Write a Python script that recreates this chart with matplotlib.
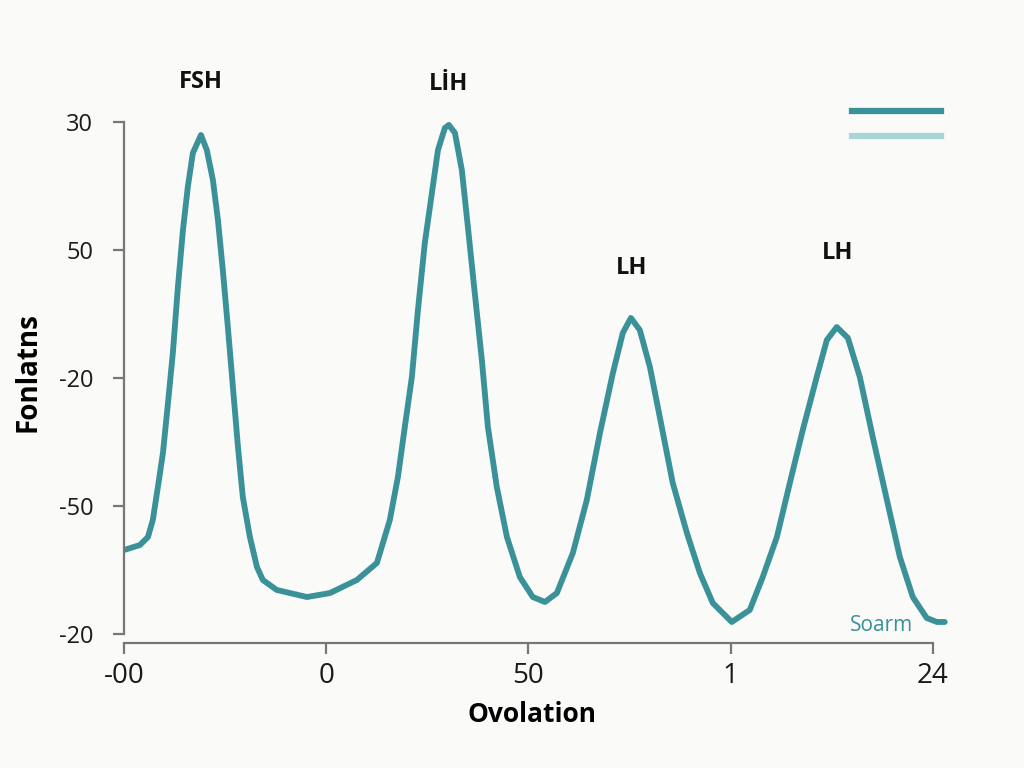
import matplotlib
matplotlib.use("Agg")
import matplotlib.pyplot as plt
from matplotlib.lines import Line2D

plt.rcParams['font.family'] = ['Open Sans', 'DejaVu Sans']

# curve (positional axis units, 0..4 on both axes)
cycle_x = [0.0, 0.079, 0.119, 0.143, 0.168, 0.193, 0.218, 0.242, 0.267, 0.292,
           0.316, 0.341, 0.381, 0.410, 0.440, 0.465, 0.489, 0.514, 0.539, 0.564,
           0.588, 0.623, 0.658, 0.687, 0.756, 0.821, 0.905, 1.019, 1.152, 1.251,
           1.266, 1.315, 1.355, 1.389, 1.424, 1.454, 1.488, 1.523, 1.553, 1.587,
           1.607, 1.637, 1.671, 1.701, 1.735, 1.770, 1.800, 1.844, 1.894, 1.958,
           2.022, 2.082, 2.141, 2.220, 2.289, 2.354, 2.418, 2.467, 2.507, 2.551,
           2.601, 2.650, 2.714, 2.784, 2.848, 2.912, 3.006, 3.095, 3.159, 3.229,
           3.293, 3.357, 3.426, 3.476, 3.525, 3.580, 3.639, 3.703, 3.773, 3.837,
           3.901, 3.970, 4.020, 4.059]
cycle_y = [0.656, 0.695, 0.758, 0.891, 1.148, 1.414, 1.805, 2.195, 2.711, 3.156,
           3.492, 3.758, 3.898, 3.781, 3.547, 3.234, 2.844, 2.398, 1.930, 1.461,
           1.070, 0.758, 0.523, 0.422, 0.344, 0.320, 0.289, 0.320, 0.422, 0.555,
           0.633, 0.891, 1.227, 1.617, 2.008, 2.531, 3.055, 3.445, 3.781, 3.953,
           3.977, 3.914, 3.625, 3.180, 2.664, 2.141, 1.617, 1.148, 0.758, 0.445,
           0.289, 0.250, 0.320, 0.633, 1.047, 1.570, 2.039, 2.352, 2.469, 2.375,
           2.086, 1.695, 1.180, 0.789, 0.477, 0.242, 0.094, 0.188, 0.445, 0.758,
           1.180, 1.594, 2.008, 2.297, 2.398, 2.313, 2.008, 1.539, 1.047, 0.602,
           0.289, 0.125, 0.094, 0.094]

x_ticklabels = ['-00', '0', '50', '1', '24']
y_ticklabels = ['-20', '-50', '-20', '50', '30']

peak_labels = ['FSH', 'LİH', 'LH', 'LH']
peak_label_x = [0.381, 1.607, 2.512, 3.530]
peak_label_y = [4.31, 4.30, 2.86, 2.98]

teal = '#3a9198'
light_teal = '#a9d6d6'
bg = '#fafaf8'

fig = plt.figure(figsize=(10.24, 7.68), dpi=100, facecolor=bg)
ax = fig.add_axes([0.121, 0.1628, 0.8097, 0.7117], facecolor=bg)

line, = ax.plot(cycle_x, cycle_y, color=teal, lw=4.2,
                solid_joinstyle='round', solid_capstyle='round')

ax.set_xlim(0, 4.1)
ax.set_ylim(-0.07, 4.2)

ax.set_xticks(range(5))
ax.set_xticklabels(x_ticklabels, fontsize=20)
ax.set_yticks(range(5))
ax.set_yticklabels(y_ticklabels, fontsize=17)

for s in ['top', 'right']:
    ax.spines[s].set_visible(False)
ax.spines['left'].set_bounds(0, 4)
ax.spines['bottom'].set_bounds(0, 4)
for s in ['left', 'bottom']:
    ax.spines[s].set_color('#777777')
    ax.spines[s].set_linewidth(1.6)
ax.tick_params(axis='both', colors='#777777', width=1.6, length=8,
               labelcolor='#1a1a1a')
ax.tick_params(axis='x', pad=6)
ax.tick_params(axis='y', pad=14)

for lab, lx, ly in zip(peak_labels, peak_label_x, peak_label_y):
    ax.text(lx, ly, lab, ha='center', va='center', fontsize=17,
            fontweight='bold', color='#111111', clip_on=False)

ax.text(3.748, 0.07, 'Soarm', ha='center', va='center', fontsize=15,
        color=teal)

ax.set_xlabel('Ovolation', fontsize=19, fontweight='bold')
ax.xaxis.set_label_coords(0.492, -0.106)
ax.set_ylabel('Fonlatns', fontsize=20, fontweight='bold')
ax.yaxis.set_label_coords(-0.098, 0.496)

handles = [Line2D([], [], color=teal, lw=4.5),
           Line2D([], [], color=light_teal, lw=4.5)]
ax.legend(handles, ['', ''], loc='upper right',
          bbox_to_anchor=(1.001, 1.007), frameon=False,
          handlelength=6.4, handletextpad=0, labelspacing=0.7)

fig.savefig('out.png', dpi=100, facecolor=bg)
